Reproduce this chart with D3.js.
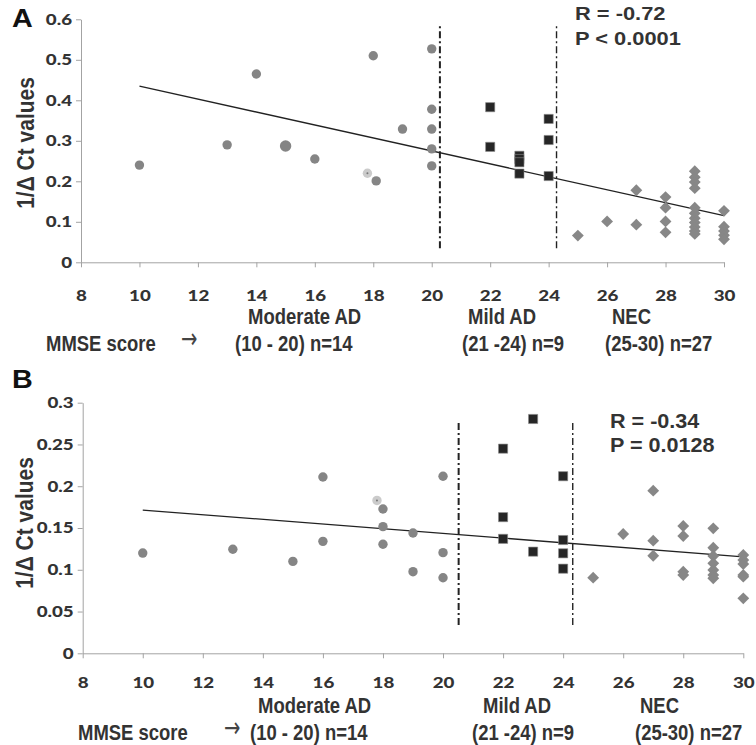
<!DOCTYPE html>
<html><head><meta charset="utf-8">
<script src="https://cdn.jsdelivr.net/npm/d3@7"></script>
<style>body{margin:0;background:#fff}</style>
</head><body>
<svg id="c" width="756" height="745"></svg>
<script>
// ---------- DATA ----------
const xTicks = [8,10,12,14,16,18,20,22,24,26,28,30];
const yTicksA = [0,0.1,0.2,0.3,0.4,0.5,0.6];
const yTicksB = [0,0.05,0.1,0.15,0.2,0.25,0.3];

const circlesA = [[10,0.240],[13,0.290],[14,0.465],[16,0.255],[18,0.510],[18.1,0.201],[19,0.329],[20,0.527],[20,0.378],[20,0.329],[20,0.280],[20,0.238]];
const bigCirclesA = [[15,0.287]];
const lightCirclesA = [[17.8,0.220]];
const squaresA = [[22,0.383],[22,0.285],[23,0.263],[23,0.255],[23,0.247],[23,0.219],[24,0.354],[24,0.302],[24,0.213]];
const diamondsA = [[25,0.066],[26,0.101],[27,0.178],[27,0.093],[28,0.161],[28,0.135],[28,0.101],[28,0.074],
  [29,0.225],[29,0.210],[29,0.198],[29,0.183],[29,0.135],[29,0.121],[29,0.109],[29,0.098],[29,0.087],[29,0.077],[29,0.070],
  [30,0.127],[30,0.088],[30,0.077],[30,0.067],[30,0.057]];
const trendA = [[10,0.435],[30,0.115]];
const cutsA = [20.28,24.27];
const cutRangeA = [0.035,0.59];
const statsA = ["R = -0.72","P < 0.0001"];

const circlesB = [[10,0.120],[13,0.1245],[15,0.110],[16,0.211],[16,0.134],[18,0.1727],[18,0.1516],[18,0.1305],[19,0.144],[19,0.0977],[20,0.212],[20,0.1205],[20,0.0905]];
const bigCirclesB = [];
const lightCirclesB = [[17.8,0.183]];
const squaresB = [[22,0.245],[22,0.163],[22,0.137],[23,0.2805],[23,0.1217],[24,0.212],[24,0.1356],[24,0.1197],[24,0.1013]];
const diamondsB = [[25,0.0905],[26,0.1428],[27,0.1947],[27,0.1348],[27,0.1168],[28,0.1524],[28,0.1404],[28,0.0977],[28,0.0937],
  [29,0.1496],[29,0.1264],[29,0.1165],[29,0.1077],[29,0.0997],[29,0.0937],[29,0.0898],
  [30,0.1177],[30,0.1117],[30,0.1069],[30,0.0937],[30,0.0917],[30,0.0658]];
const trendB = [[10,0.1715],[30,0.1155]];
const cutsB = [20.52,24.32];
const cutRangeB = [0.034,0.277];
const statsB = ["R = -0.34","P = 0.0128"];

const yLabel = "1/\u0394 Ct values";
const groupTitles = ["Moderate AD","Mild AD","NEC"];
const groupRanges = ["(10 - 20) n=14","(21 -24) n=9","(25-30) n=27"];
const mmseLabel = "MMSE score";

// ---------- DRAW ----------
const svg = d3.select("#c");
const AX = "#a3a3a3", TXT = "#333";

function txt(g, x, y, s, o) {
  return g.append("text")
    .attr("transform", `translate(${x},${y}) scale(${o.sx||1},1)` + (o.rot ? ` rotate(${o.rot})` : ""))
    .attr("font-family", o.family || "'Liberation Sans', Arial, sans-serif")
    .attr("font-weight", o.weight || "bold")
    .attr("font-size", o.size)
    .attr("text-anchor", o.anchor || "start")
    .attr("fill", o.fill || TXT)
    .text(s);
}

function panel(cfg) {
  const g = svg.append("g");
  const x = d3.scaleLinear().domain([8,30]).range(cfg.xr);
  const y = d3.scaleLinear().domain(cfg.yd).range(cfg.yr);
  const sx = 1.25;

  const ya = g.append("g").attr("transform", `translate(${cfg.xr[0]},0)`)
    .call(d3.axisLeft(y).tickValues(cfg.yTicks).tickSize(5).tickSizeOuter(0).tickPadding(0)
      .tickFormat(d => String(d)));
  ya.select(".domain").attr("stroke", AX);
  ya.selectAll(".tick line").attr("stroke", AX);
  ya.selectAll(".tick text")
    .attr("font-family","Lato, 'Open Sans', sans-serif").attr("font-weight","900")
    .attr("font-size",15).attr("fill",TXT)
    .attr("x", -9/sx).attr("transform", `scale(${sx},1)`);

  const xa = g.append("g").attr("transform", `translate(0,${cfg.yr[0]})`)
    .call(d3.axisBottom(x).tickValues(xTicks).tickSize(5).tickSizeOuter(0).tickPadding(0));
  xa.select(".domain").attr("stroke", AX);
  xa.selectAll(".tick line").attr("stroke", AX);
  xa.selectAll(".tick text")
    .attr("font-family","Lato, 'Open Sans', sans-serif").attr("font-weight","900")
    .attr("font-size",15).attr("fill",TXT)
    .attr("y", cfg.xLabOff).attr("dy","0").attr("transform", `scale(${sx},1)`);

  cfg.cuts.forEach((c,i) => {
    g.append("line").attr("x1",x(c)).attr("x2",x(c))
      .attr("y1",y(cfg.cutRange[0])).attr("y2",y(cfg.cutRange[1]))
      .attr("stroke","#222").attr("stroke-width", i===0 ? 2 : 1.4)
      .attr("stroke-dasharray","7,3,2,3");
  });

  g.append("line").attr("x1",x(cfg.trend[0][0])).attr("y1",y(cfg.trend[0][1]))
    .attr("x2",x(cfg.trend[1][0])).attr("y2",y(cfg.trend[1][1]))
    .attr("stroke","#222").attr("stroke-width",1.3);

  g.selectAll(".dia").data(cfg.diamonds).join("path")
    .attr("d", d3.symbol(d3.symbolSquare, 70))
    .attr("transform", d => `translate(${x(d[0])},${y(d[1])}) rotate(45)`)
    .attr("fill","#878787");
  g.selectAll(".sq").data(cfg.squares).join("path")
    .attr("d", d3.symbol(d3.symbolSquare, 84))
    .attr("transform", d => `translate(${x(d[0])},${y(d[1])})`)
    .attr("fill","#262626").attr("stroke","#8a8a8a").attr("stroke-width",0.6);
  g.selectAll(".ci").data(cfg.circles).join("circle")
    .attr("cx", d => x(d[0])).attr("cy", d => y(d[1])).attr("r",4.7).attr("fill","#858585");
  g.selectAll(".bci").data(cfg.bigCircles).join("circle")
    .attr("cx", d => x(d[0])).attr("cy", d => y(d[1])).attr("r",5.7).attr("fill","#858585");
  g.selectAll(".lci").data(cfg.lightCircles).join("circle")
    .attr("cx", d => x(d[0])).attr("cy", d => y(d[1])).attr("r",4.7).attr("fill","#cbcbcb");
  g.selectAll(".lcd").data(cfg.lightCircles).join("circle")
    .attr("cx", d => x(d[0])).attr("cy", d => y(d[1])).attr("r",1).attr("fill","#777");

  txt(g, cfg.letter[0], cfg.letter[1], cfg.letterText, {size:25, sx:1.15, fill:"#111"});
  txt(g, cfg.ylab[0], cfg.ylab[1], yLabel, {size:cfg.ylabSize, sx:1.12, rot:-90, anchor:"middle"});
  txt(g, cfg.stats[0], cfg.stats[1], cfg.statsText[0], {size:cfg.statsSize, sx:cfg.statsSx});
  txt(g, cfg.stats[0], cfg.stats[1]+cfg.statsGap, cfg.statsText[1], {size:cfg.statsSize, sx:cfg.statsSx});

  const nf = {size:22, sx:0.84, family:"'Liberation Sans Narrow','Arial Narrow','Liberation Sans',sans-serif", weight:"bold", fill:"#333"};
  groupTitles.forEach((t,i) => txt(g, cfg.bx[i], cfg.by[0], t, nf));
  groupRanges.forEach((t,i) => txt(g, cfg.bx2[i], cfg.by[1], t, nf));
  txt(g, cfg.mmse, cfg.by[1], mmseLabel, nf);
  txt(g, cfg.arrow, cfg.by[1]-3, "\u2192", {size:28, weight:"normal", family:"'DejaVu Sans',sans-serif", fill:"#444", sx:0.7});
}

panel({
  xr:[81,724], yd:[0,0.6], yr:[262.3,19.3], yTicks:yTicksA, xLabOff:39,
  circles:circlesA, bigCircles:bigCirclesA, lightCircles:lightCirclesA, squares:squaresA, diamonds:diamondsA,
  trend:trendA, cuts:cutsA, cutRange:cutRangeA,
  letter:[12,27], letterText:"A", ylab:[34,143], ylabSize:21,
  stats:[575,20], statsText:statsA, statsSize:19, statsSx:1.15, statsGap:25,
  bx:[248,468,612], bx2:[235,462,605], by:[324,351], mmse:46, arrow:181
});
panel({
  xr:[82.7,743.3], yd:[0,0.3], yr:[653.3,402.7], yTicks:yTicksB, xLabOff:35,
  circles:circlesB, bigCircles:bigCirclesB, lightCircles:lightCirclesB, squares:squaresB, diamonds:diamondsB,
  trend:trendB, cuts:cutsB, cutRange:cutRangeB,
  letter:[12,388], letterText:"B", ylab:[33,523], ylabSize:21,
  stats:[610,428], statsText:statsB, statsSize:20, statsSx:1.08, statsGap:24,
  bx:[258,483,640], bx2:[250,472,635], by:[713,740], mmse:78, arrow:224
});
</script>
</body></html>
